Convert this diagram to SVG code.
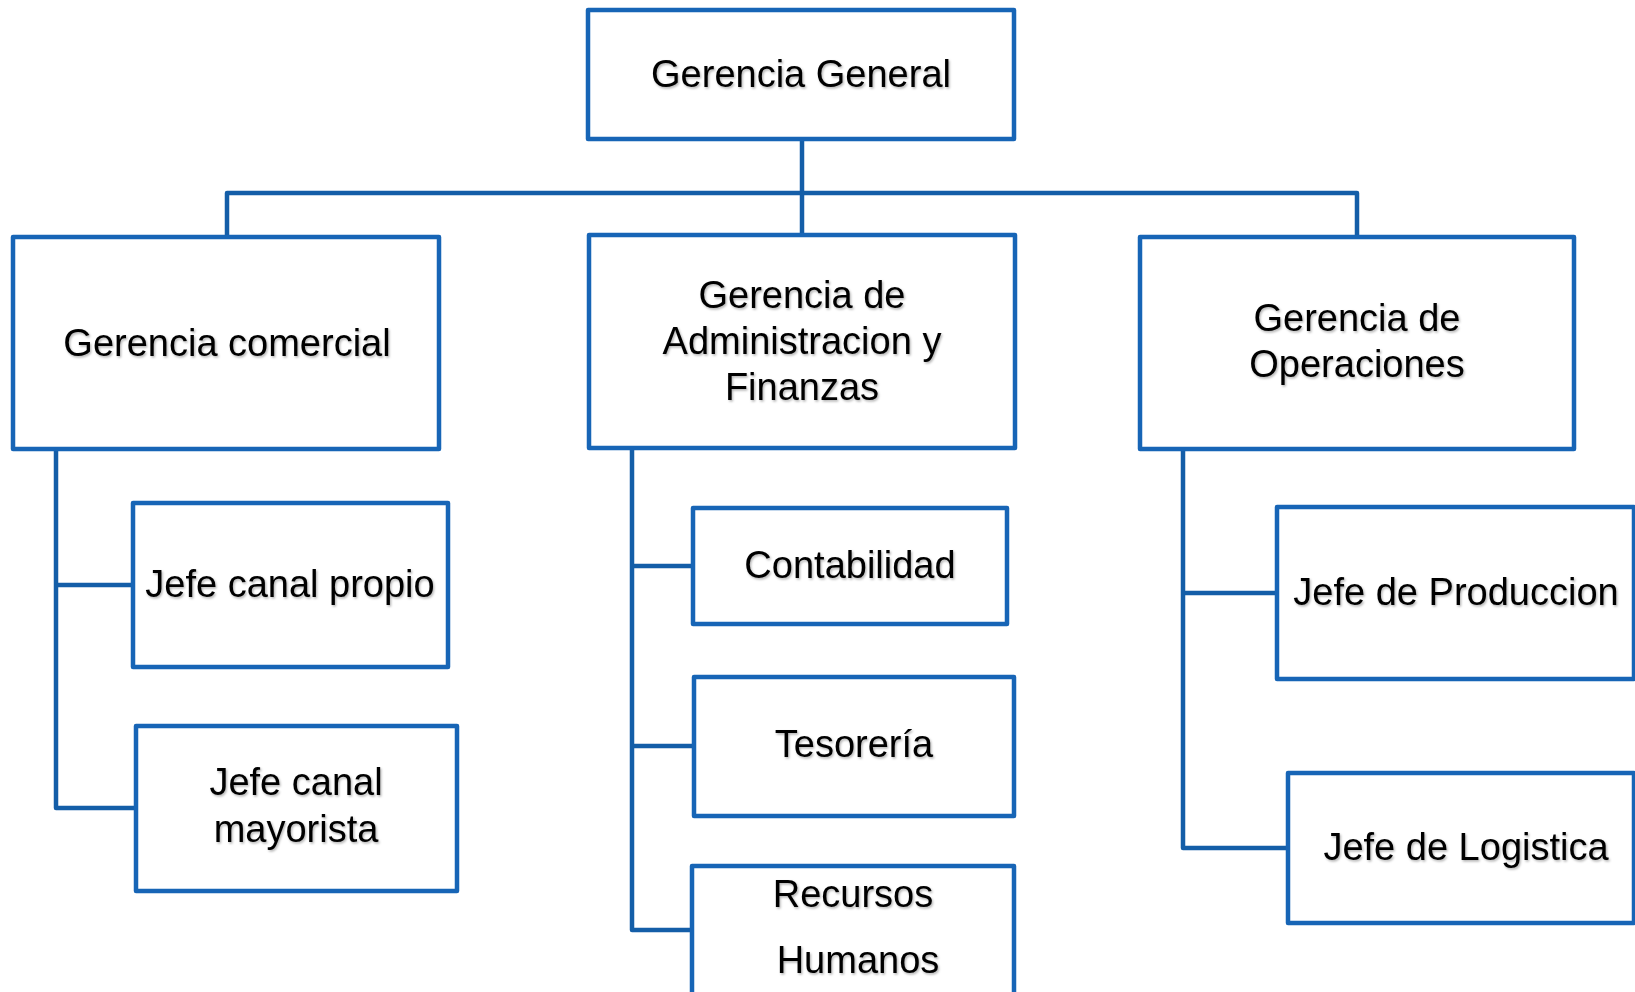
<svg xmlns="http://www.w3.org/2000/svg" width="1635" height="992" viewBox="0 0 1635 992">
<defs>
<filter id="sh" x="-5%" y="-20%" width="110%" height="140%">
<feDropShadow dx="1.2" dy="1.6" stdDeviation="1" flood-color="#000" flood-opacity="0.3"/>
</filter>
<style>
.box{fill:#fff;stroke:#1765b6;stroke-width:4.5;stroke-linejoin:round}
.con{fill:none;stroke:#145ea8;stroke-width:4.5;stroke-linejoin:round;stroke-linecap:butt}
.t{font-family:"Liberation Sans",Arial,sans-serif;font-size:38px;fill:#000;text-anchor:middle;filter:url(#sh)}
</style>
</defs>
<rect width="1635" height="992" fill="#fff"/>
<g id="connectors">
<path class="con" d="M802 139 V235"/>
<path class="con" d="M227 237 V193 H1357 V237"/>
<path class="con" d="M56 449 V808 H136 M56 585 H133"/>
<path class="con" d="M632 448 V930 H692 M632 566 H693 M632 746 H694"/>
<path class="con" d="M1183 449 V848 H1288 M1183 593 H1277"/>
</g>
<g id="gerencia-general"><rect class="box" x="588" y="10" width="426" height="129"/><text class="t" x="801" y="87">Gerencia General</text></g>
<g id="gerencia-comercial"><rect class="box" x="13" y="237" width="426" height="212"/><text class="t" x="227" y="356">Gerencia comercial</text></g>
<g id="gerencia-admin"><rect class="box" x="589" y="235" width="426" height="213"/><text class="t" x="802" y="308">Gerencia de</text><text class="t" x="802" y="354">Administracion y</text><text class="t" x="802" y="400">Finanzas</text></g>
<g id="gerencia-operaciones"><rect class="box" x="1140" y="237" width="434" height="212"/><text class="t" x="1357" y="331">Gerencia de</text><text class="t" x="1357" y="377">Operaciones</text></g>
<g id="jefe-canal-propio"><rect class="box" x="133" y="503" width="315" height="164"/><text class="t" x="290" y="597">Jefe canal propio</text></g>
<g id="jefe-canal-mayorista"><rect class="box" x="136" y="726" width="321" height="165"/><text class="t" x="296" y="795">Jefe canal</text><text class="t" x="296" y="842">mayorista</text></g>
<g id="contabilidad"><rect class="box" x="693" y="508" width="314" height="116"/><text class="t" x="850" y="578">Contabilidad</text></g>
<g id="tesoreria"><rect class="box" x="694" y="677" width="320" height="139"/><text class="t" x="854" y="757">Tesorería</text></g>
<g id="recursos-humanos"><rect class="box" x="692" y="866" width="322" height="140"/><text class="t" x="853" y="907">Recursos</text><text class="t" x="858" y="973">Humanos</text></g>
<g id="jefe-produccion"><rect class="box" x="1277" y="507" width="357" height="172"/><text class="t" x="1456" y="605">Jefe de Produccion</text></g>
<g id="jefe-logistica"><rect class="box" x="1288" y="773" width="346" height="150"/><text class="t" x="1466" y="860">Jefe de Logistica</text></g>
</svg>
